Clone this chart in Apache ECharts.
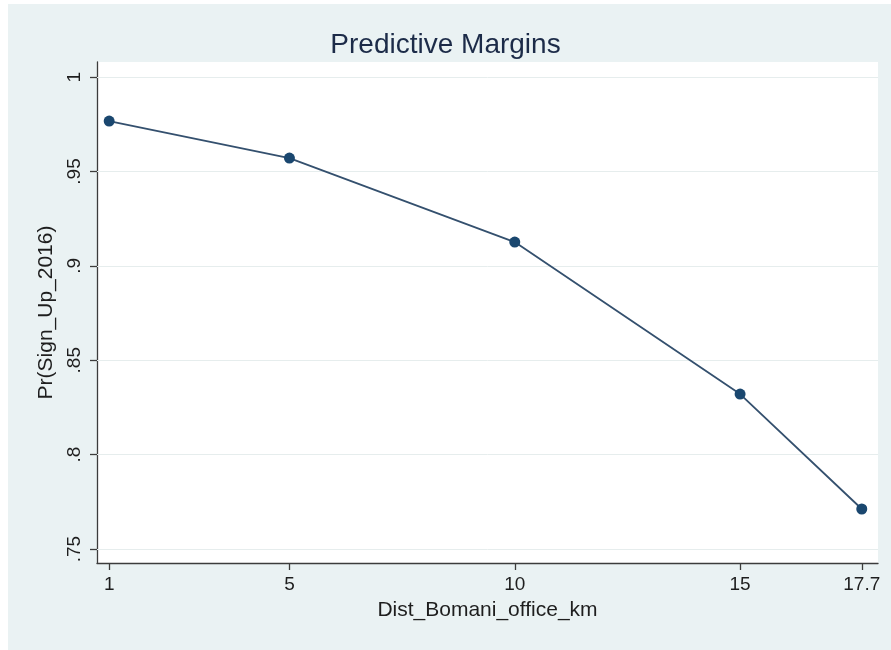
<!DOCTYPE html>
<html>
<head>
<meta charset="utf-8">
<script src="https://cdn.jsdelivr.net/npm/echarts@6/dist/echarts.min.js"></script>
<style>
  html, body { margin: 0; padding: 0; background: #ffffff; }
  #bg { position: absolute; left: 8px; top: 4px; width: 883px; height: 646px; background: #eaf2f3; }
  #chart { position: absolute; left: 0; top: 0; width: 891px; height: 650px; }
</style>
</head>
<body>
<div id="bg"></div>
<div id="chart"></div>
<script>
const xValues = [1, 5, 10, 15, 17.7];
const yValues = [0.9767, 0.9571, 0.9126, 0.8321, 0.7712];
const xTicks = [1, 5, 10, 15, 17.7];
const yTicks = [0.75, 0.8, 0.85, 0.9, 0.95, 1];
const titleText = 'Predictive Margins';
const xTitle = 'Dist_Bomani_office_km';
const yTitle = 'Pr(Sign_Up_2016)';

const FONT = '"Liberation Sans", Arial, Helvetica, sans-serif';
const chart = echarts.init(document.getElementById('chart'), null, { renderer: 'canvas' });

const fmtY = v => (Math.abs(v - 1) < 1e-9 ? '1' : String(+v.toFixed(2)).replace(/^0/, ''));
const fmtX = v => String(+v.toFixed(1));

chart.setOption({
  backgroundColor: 'transparent',
  animation: false,
  title: {
    text: titleText,
    left: 'center',
    top: 26,
    textStyle: { fontFamily: FONT, fontSize: 28, fontWeight: 'normal', color: '#1c2b48' }
  },
  grid: {
    left: 97, right: 13, top: 62, bottom: 87,
    show: true, backgroundColor: '#ffffff', borderWidth: 0
  },
  xAxis: {
    type: 'value',
    min: 0.73, max: 18.06,
    name: xTitle,
    nameLocation: 'middle',
    nameGap: 37,
    nameTextStyle: { fontFamily: FONT, fontSize: 21, color: '#1e1e1e' },
    axisLine: { show: true, onZero: false, lineStyle: { color: '#3c3c3c', width: 1.3 } },
    axisTick: { show: true, customValues: xTicks, length: 7, lineStyle: { color: '#3c3c3c', width: 1.3 } },
    axisLabel: { customValues: xTicks, formatter: fmtX, fontFamily: FONT, fontSize: 19, color: '#1e1e1e', margin: 12 },
    splitLine: { show: false }
  },
  yAxis: {
    type: 'value',
    min: 0.7426, max: 1.008,
    name: yTitle,
    nameLocation: 'middle',
    nameRotate: 90,
    nameGap: 35,
    nameTextStyle: { fontFamily: FONT, fontSize: 21, color: '#1e1e1e' },
    axisLine: { show: true, onZero: false, lineStyle: { color: '#3c3c3c', width: 1.3 } },
    axisTick: { show: true, customValues: yTicks, length: 7, lineStyle: { color: '#3c3c3c', width: 1.3 } },
    axisLabel: { customValues: yTicks, formatter: fmtY, rotate: 90, fontFamily: FONT, fontSize: 19, color: '#1e1e1e', margin: 13 },
    splitLine: { show: false }
  },
  series: [{
    type: 'line',
    data: xValues.map((x, i) => [x, yValues[i]]),
    symbol: 'circle',
    symbolSize: 11,
    itemStyle: { color: '#1a476f' },
    lineStyle: { color: '#34506e', width: 1.8 },
    markLine: {
      silent: true,
      symbol: 'none',
      label: { show: false },
      lineStyle: { color: '#e6eded', width: 1, type: 'solid' },
      z: 1,
      data: yTicks.map(v => ({ yAxis: v }))
    },
    z: 3
  }]
});
</script>
</body>
</html>
